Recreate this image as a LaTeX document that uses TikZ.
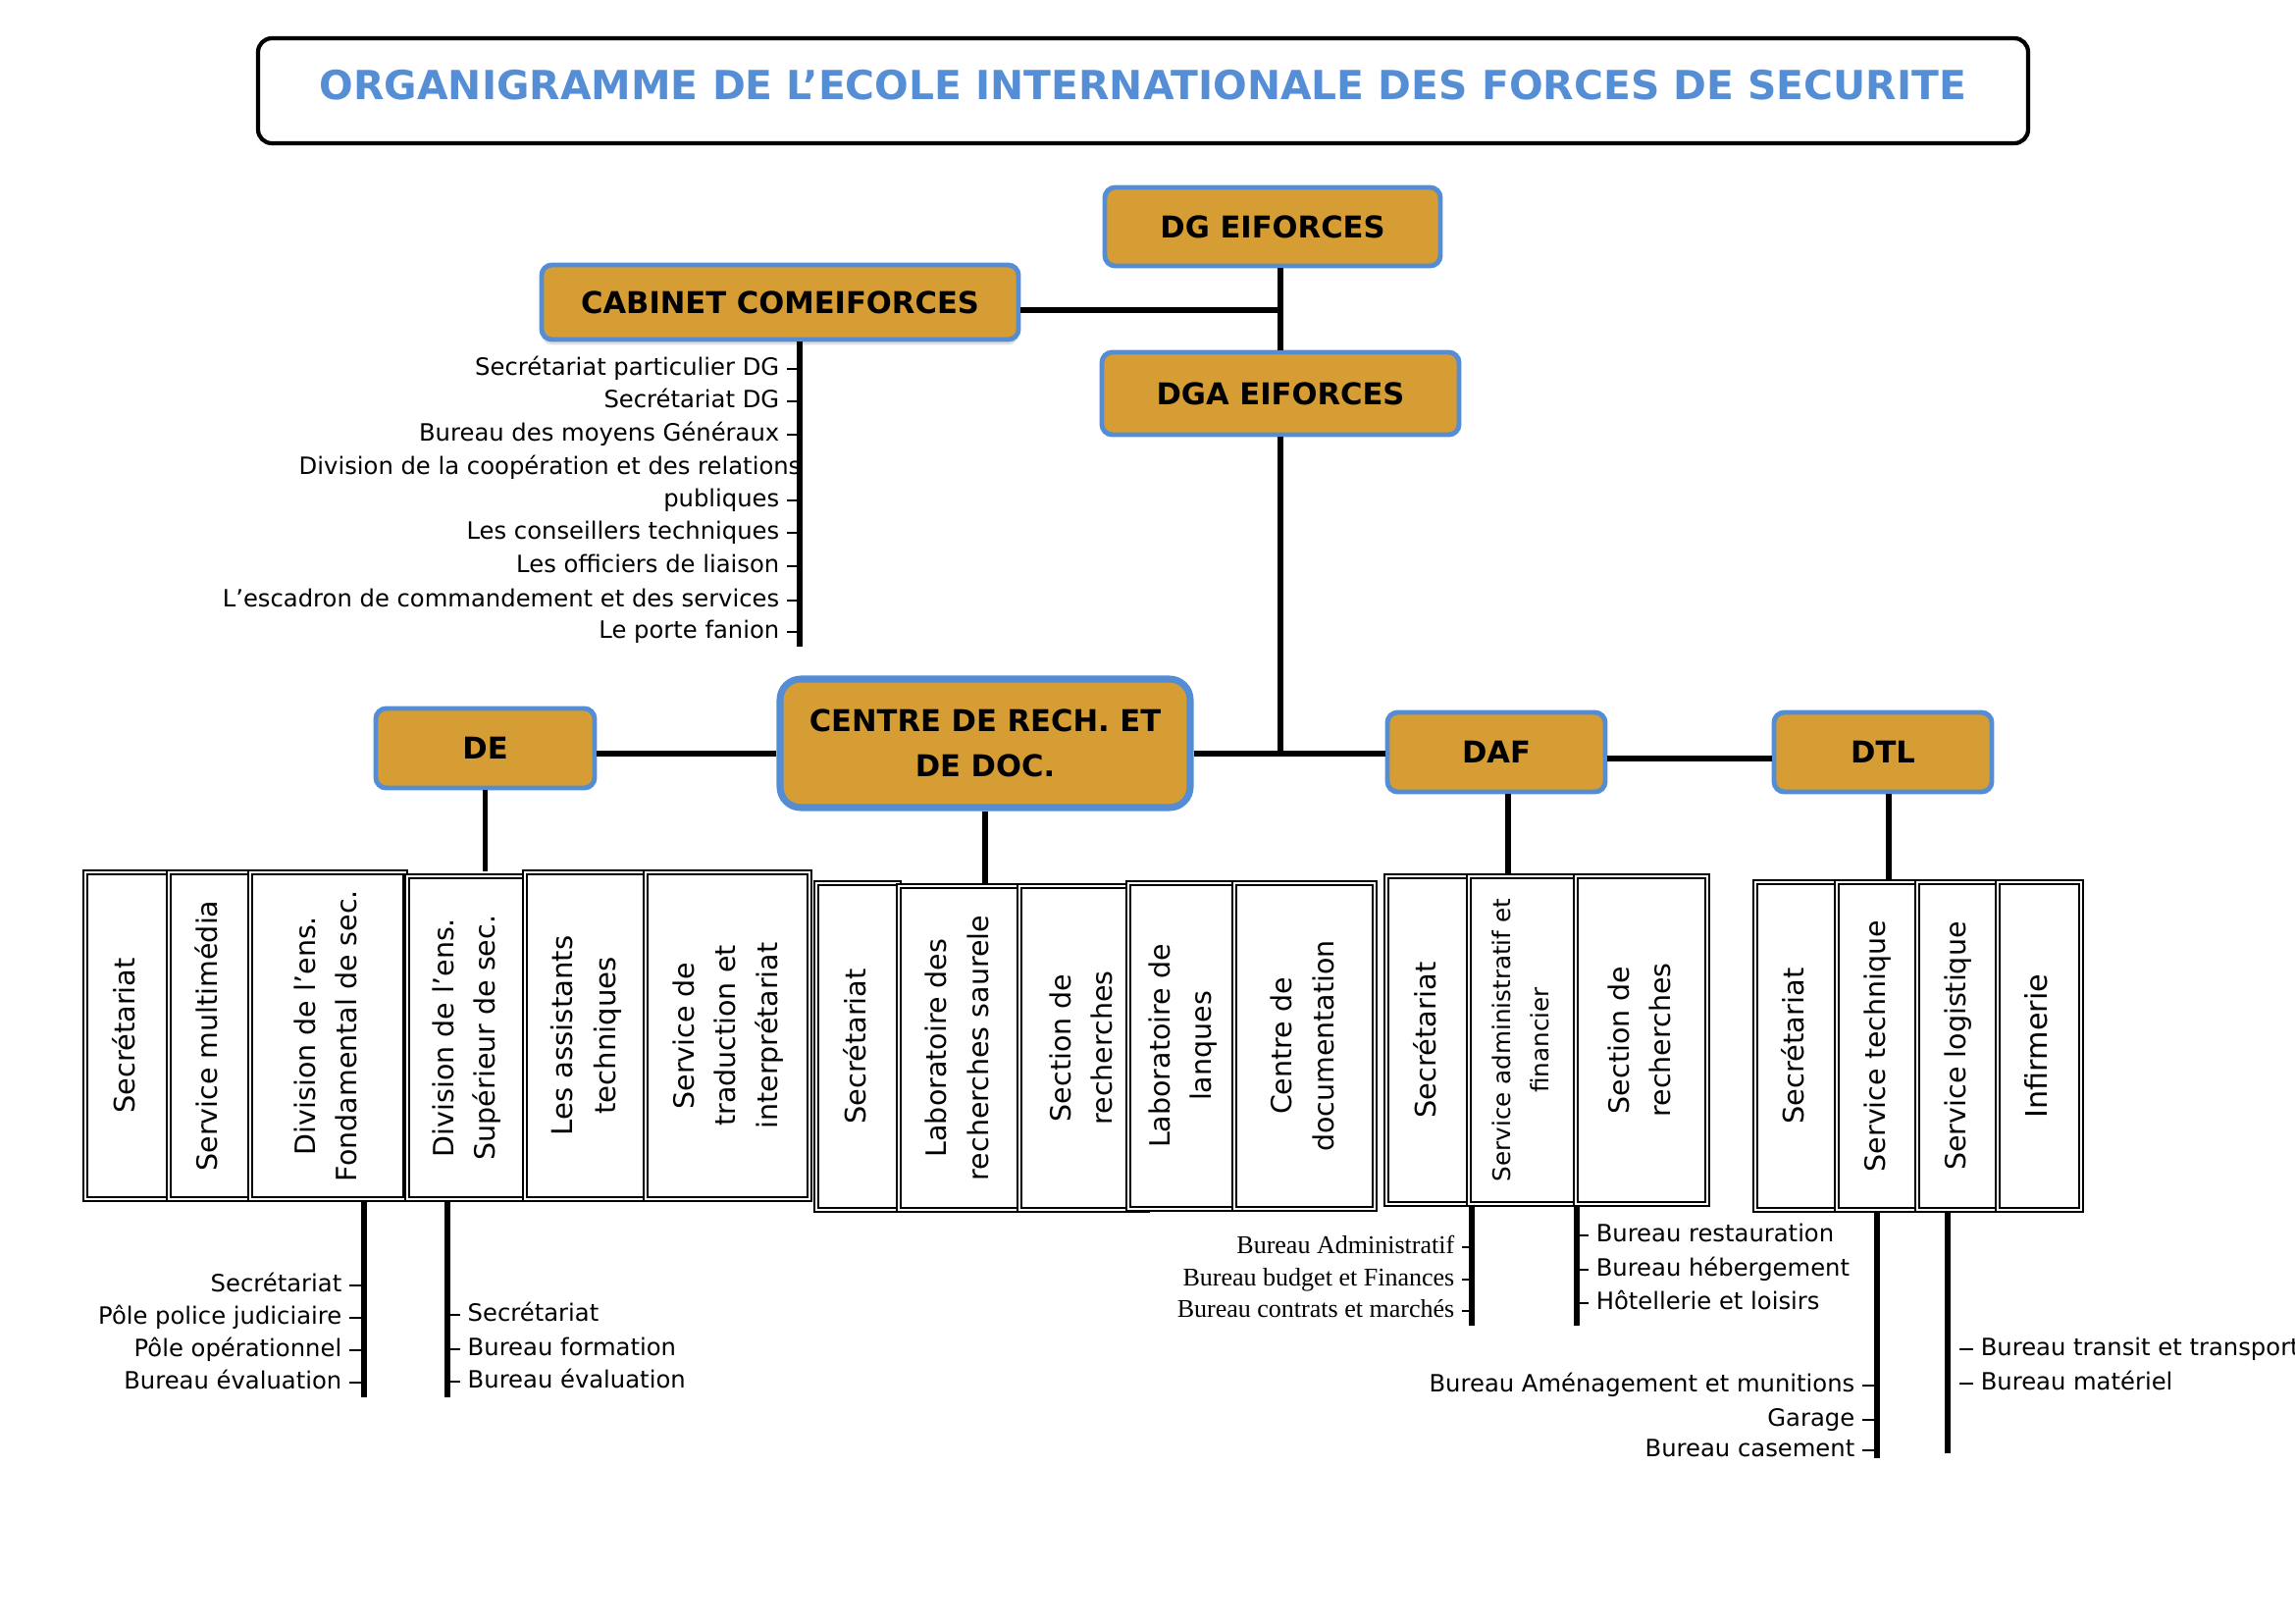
\documentclass[tikz,border=0pt]{standalone}
\usepackage{fontspec}
\setmainfont{DejaVu Sans}
\newfontfamily\serifx{Liberation Serif}
\usepackage{graphicx}
\usetikzlibrary{fit,shadows}
\definecolor{boxorange}{RGB}{213,157,51}
\definecolor{boxblue}{RGB}{84,141,212}
\definecolor{titleblue}{RGB}{85,142,213}
\newcommand{\rt}[1]{\rotatebox{90}{\begin{tabular}{@{}c@{}}#1\end{tabular}}}
\begin{document}
\begin{tikzpicture}[x=0.01cm,y=-0.01cm,
  mainbox/.style={draw=boxblue, fill=boxorange, line width=1.4pt, rounded corners=3pt, inner sep=0pt},
  maintext/.style={align=center, inner sep=0pt, font=\bfseries\fontsize{8.7}{13}\selectfont},
  sub/.style={draw, double, line width=0.4pt, double distance=0.7pt, inner sep=0pt, fill=white},
  subtext/.style={inner sep=0pt, font=\fontsize{8.1}{12}\selectfont},
  link/.style={line width=1.6pt},
  tick/.style={line width=0.45pt},
  lab/.style={inner xsep=2pt, inner ysep=0pt, text height=5.2pt, text depth=1.5pt, font=\fontsize{6.9}{8}\selectfont},
  lleft/.style={lab, anchor=east},
  lright/.style={lab, anchor=west},
  slab/.style={lab, anchor=east, font=\serifx\fontsize{7.4}{9}\selectfont},
]
\useasboundingbox (0,0) rectangle (2339,1654);

% title
\node[draw, line width=1.2pt, rounded corners=4pt, inner sep=0pt, fit={(263,39) (2067,146)}] (title) {};
\node[font=\bfseries\fontsize{11.6}{14}\selectfont, text=titleblue] (titletext) at (1165,87) {ORGANIGRAMME DE L’ECOLE INTERNATIONALE DES FORCES DE SECURITE};

% main boxes
\node[mainbox, fit={(1126,191) (1468,271)}] (dg) {};
\node[maintext] (dgt) at (dg.center) {DG EIFORCES};
\node[mainbox, drop shadow={shadow xshift=0pt, shadow yshift=-1.5pt, opacity=0.25}, fit={(552,270) (1038,346)}] (cab) {};
\node[maintext] (cabt) at (cab.center) {CABINET COMEIFORCES};
\node[mainbox, fit={(1123,359) (1487,443)}] (dga) {};
\node[maintext] (dgat) at (dga.center) {DGA EIFORCES};
\node[mainbox, line width=2pt, rounded corners=6pt, fit={(795,692) (1213,823)}] (centre) {};
\node[maintext] (centret) at (centre.center) {CENTRE DE RECH. ET\\DE DOC.};
\node[mainbox, fit={(383,722) (606,803)}] (de) {};
\node[maintext] (det) at (de.center) {DE};
\node[mainbox, fit={(1414,726) (1636,807)}] (daf) {};
\node[maintext] (daft) at (daf.center) {DAF};
\node[mainbox, fit={(1808,726) (2030,807)}] (dtl) {};
\node[maintext] (dtlt) at (dtl.center) {DTL};

% main connectors
\coordinate (jx) at (1305,316);
\coordinate (j2) at (1305,768);
\coordinate (j3) at (1700,773);
\draw[link] (jx |- dg.south) -- (jx |- dga.north);
\draw[link] (cab.east |- jx) -- (jx);
\draw[link] (jx |- dga.south) -- (j2);
\draw[link] (centre.east |- j2) -- (daf.west |- j2);
\draw[link] (de.east |- j2) -- (centre.west |- j2);
\draw[link] (daf.east |- j3) -- (dtl.west |- j3);

% cabinet list
\coordinate (cabA) at (815,659);
\draw[link] (cabA |- cab.south) -- (cabA);
\node[lleft] (c1) at (802,376) {Secrétariat particulier DG};
\node[lleft] (c2) at (802,409) {Secrétariat DG};
\node[lleft] (c3) at (802,443) {Bureau des moyens Généraux};
\node[lleft, inner xsep=0pt] (c4) at (817,477) {Division de la coopération et des relations};
\node[lleft] (c5) at (802,510) {publiques};
\node[lleft] (c6) at (802,543) {Les conseillers techniques};
\node[lleft] (c7) at (802,577) {Les officiers de liaison};
\node[lleft] (c8) at (802,612) {L’escadron de commandement et des services};
\node[lleft] (c9) at (802,644) {Le porte fanion};
\foreach \n in {c1,c2,c3,c5,c6,c7,c8,c9} \draw[tick] (\n.east) -- (\n.east -| cabA);

% DE group
\node[sub, fit={(87,889) (172,1222)}] (de1) {};
\node[subtext, font=\fontsize{8.2}{12}\selectfont] (de1t) at (de1.center) {\rt{Secrétariat}};
\node[sub, fit={(172,889) (255,1222)}] (de2) {};
\node[subtext] (de2t) at (de2.center) {\rt{Service multimédia}};
\node[sub, fit={(255,889) (413,1222)}] (de3) {};
\node[subtext] (de3t) at (de3.center) {\rt{Division de l’ens.\\Fondamental de sec.}};
\node[sub, fit={(415,893) (535,1222)}] (de4) {};
\node[subtext] (de4t) at (de4.center) {\rt{Division de l’ens.\\Supérieur de sec.}};
\node[sub, fit={(535,889) (658,1222)}] (de5) {};
\node[subtext, font=\fontsize{8.3}{12.4}\selectfont] (de5t) at (de5.center) {\rt{Les assistants\\techniques}};
\node[sub, fit={(658,889) (825,1222)}] (de6) {};
\node[subtext] (de6t) at (de6.center) {\rt{Service de\\traduction et\\interprétariat}};
\draw[link] (de.south) -- (de.south |- de3.north);

\coordinate (deA) at (371,1424);
\coordinate (deB) at (456,1424);
\draw[link] (deA |- de3.south) -- (deA);
\draw[link] (deB |- de4.south) -- (deB);
\node[lleft] (da1) at (356,1310) {Secrétariat};
\node[lleft] (da2) at (356,1343) {Pôle police judiciaire};
\node[lleft] (da3) at (356,1376) {Pôle opérationnel};
\node[lleft] (da4) at (356,1409) {Bureau évaluation};
\foreach \n in {da1,da2,da3,da4} \draw[tick] (\n.east) -- (\n.east -| deA);
\node[lright] (db1) at (469,1340) {Secrétariat};
\node[lright] (db2) at (469,1375) {Bureau formation};
\node[lright] (db3) at (469,1408) {Bureau évaluation};
\foreach \n in {db1,db2,db3} \draw[tick] (\n.west) -- (\n.west -| deB);

% CENTRE group
\node[sub, fit={(832,900) (916,1233)}] (cr1) {};
\node[subtext, font=\fontsize{8.2}{12}\selectfont] (cr1t) at (cr1.center) {\rt{Secrétariat}};
\node[sub, fit={(916,903) (1039,1233)}] (cr2) {};
\node[subtext] (cr2t) at (cr2.center) {\rt{Laboratoire des\\recherches saurele}};
\node[sub, fit={(1039,903) (1169,1233)}] (cr3) {};
\node[subtext] (cr3t) at (1104,1068) {\rt{Section de\\recherches}};
\node[sub, fit={(1150,900) (1260,1232)}] (cr4) {};
\node[subtext] (cr4t) at (cr4.center) {\rt{Laboratoire de\\lanques}};
\node[sub, fit={(1258,900) (1401,1232)}] (cr5) {};
\node[subtext] (cr5t) at (cr5.center) {\rt{Centre de\\documentation}};
\draw[link] (centre.south) -- (centre.south |- cr2.north);

% DAF group
\node[sub, fit={(1413,893) (1497,1227)}] (daf1) {};
\node[subtext, font=\fontsize{8.2}{12}\selectfont] (daf1t) at (daf1.center) {\rt{Secrétariat}};
\node[sub, fit={(1497,893) (1606,1227)}] (daf2) {};
\node[subtext, font=\fontsize{7}{11}\selectfont] (daf2t) at (daf2.center) {\rt{Service administratif et\\financier}};
\node[sub, fit={(1606,893) (1740,1227)}] (daf3) {};
\node[subtext] (daf3t) at (daf3.center) {\rt{Section de\\recherches}};
\coordinate (dafx) at (1537,800);
\draw[link] (dafx |- daf.south) -- (dafx |- daf2.north);

\coordinate (dfA) at (1500,1351);
\coordinate (dfB) at (1607,1351);
\draw[link] (dfA |- daf2.south) -- (dfA);
\draw[link] (dfB |- daf3.south) -- (dfB);
\node[slab] (fa1) at (1490,1271) {Bureau Administratif};
\node[slab] (fa2) at (1490,1304) {Bureau budget et Finances};
\node[slab] (fa3) at (1490,1336) {Bureau contrats et marchés};
\foreach \n in {fa1,fa2,fa3} \draw[tick] (\n.east) -- (\n.east -| dfA);
\node[lright] (fb1) at (1619,1259) {Bureau restauration};
\node[lright] (fb2) at (1619,1294) {Bureau hébergement};
\node[lright] (fb3) at (1619,1328) {Hôtellerie et loisirs};
\foreach \n in {fb1,fb2,fb3} \draw[tick] (\n.west) -- (\n.west -| dfB);

% DTL group
\node[sub, fit={(1789,899) (1872,1233)}] (dtl1) {};
\node[subtext, font=\fontsize{8.2}{12}\selectfont] (dtl1t) at (dtl1.center) {\rt{Secrétariat}};
\node[sub, fit={(1872,899) (1954,1233)}] (dtl2) {};
\node[subtext] (dtl2t) at (dtl2.center) {\rt{Service technique}};
\node[sub, fit={(1954,899) (2036,1233)}] (dtl3) {};
\node[subtext] (dtl3t) at (dtl3.center) {\rt{Service logistique}};
\node[sub, fit={(2036,899) (2121,1233)}] (dtl4) {};
\node[subtext, font=\fontsize{8.6}{12}\selectfont] (dtl4t) at (dtl4.center) {\rt{Infirmerie}};
\coordinate (dtlx) at (1925,800);
\draw[link] (dtlx |- dtl.south) -- (dtlx |- dtl2.north);

\coordinate (dtA) at (1913,1486);
\coordinate (dtB) at (1985,1481);
\draw[link] (dtA |- dtl2.south) -- (dtA);
\draw[link] (dtB |- dtl3.south) -- (dtB);
\node[lleft] (ta1) at (1898,1412) {Bureau Aménagement et munitions};
\node[lleft] (ta2) at (1898,1447) {Garage};
\node[lleft] (ta3) at (1898,1478) {Bureau casement};
\foreach \n in {ta1,ta2,ta3} \draw[tick] (\n.east) -- (\n.east -| dtA);
\node[lright] (tb1) at (2011,1375) {Bureau transit et transport};
\node[lright] (tb2) at (2011,1410) {Bureau matériel};
\foreach \n in {tb1,tb2} \draw[tick] (\n.west) -- ++(-4pt,0);
\end{tikzpicture}
\end{document}
